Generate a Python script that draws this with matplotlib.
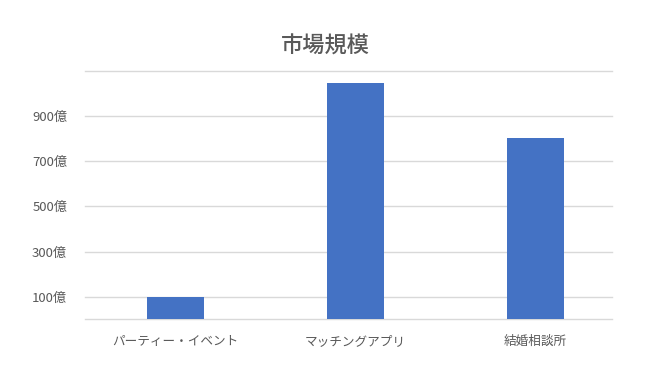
import matplotlib
matplotlib.use("Agg")
import matplotlib.pyplot as plt

plt.rcParams['font.family'] = ['Noto Sans CJK JP', 'DejaVu Sans']

categories = ['パーティー・イベント', 'マッチングアプリ', '結婚相談所']
market_size = [100, 1045, 800]  # 単位: 億円
tick_values = [0, 100, 300, 500, 700, 900, 1100]
tick_labels = ['', '100億', '300億', '500億', '700億', '900億', '']
title = '市場規模'

W, H = 650, 365
fig = plt.figure(figsize=(W / 100, H / 100), dpi=100)
ax = fig.add_axes([85.3 / W, (H - 319.3) / H, (611.7 - 85.3) / W, (319.3 - 70.7) / H])

text_color = '#595959'
grid_color = '#d9d9d9'

x = list(range(len(categories)))
ax.bar(x, market_size, width=0.315, color='#4472C4', zorder=3)

ax.set_xlim(-0.5, 2.424)
ax.set_ylim(0, 1100)
ax.set_yticks(tick_values)
ax.set_yticklabels(tick_labels)
ax.set_xticks(x)
ax.set_xticklabels(categories)

ax.grid(axis='y', color=grid_color, linewidth=1.0, zorder=0)
for gl in ax.get_ygridlines():
    gl.set_clip_on(False)
for s in ax.spines.values():
    s.set_visible(False)
ax.tick_params(axis='y', length=0, colors=text_color, labelsize=9.5, pad=13)
ax.tick_params(axis='x', length=0, colors=text_color, labelsize=9.1, pad=11)

fig.text(0.5, (H - 46) / H, title, ha='center', va='center',
         fontsize=16, color=text_color, fontweight='medium')

fig.savefig('out.png', dpi=100, facecolor='white')
